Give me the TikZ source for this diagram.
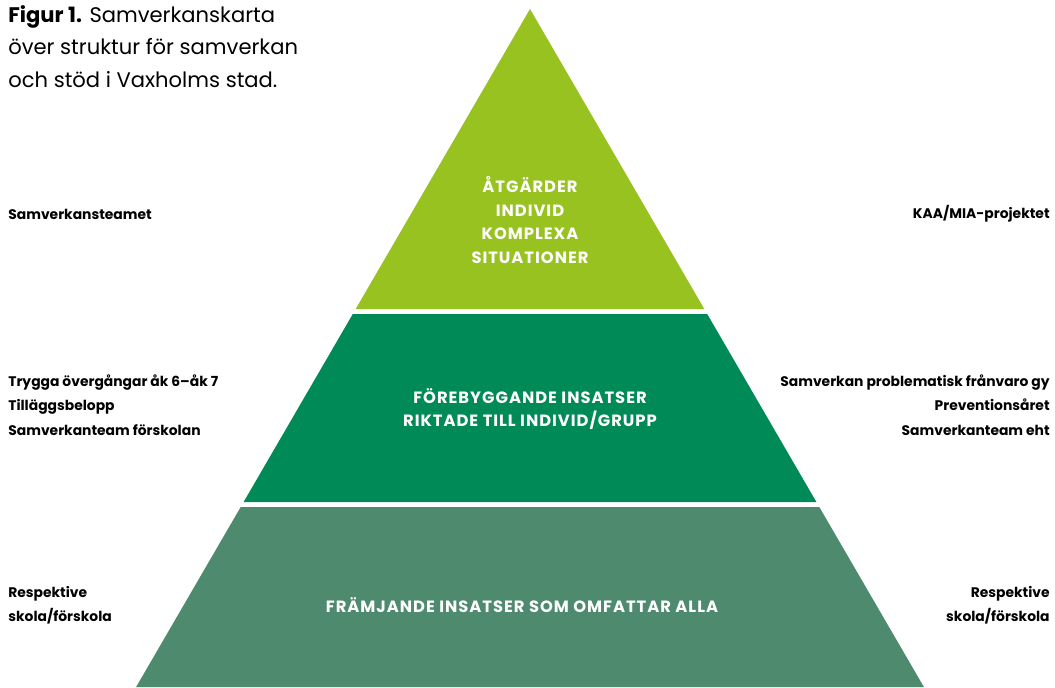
\documentclass[tikz,border=0pt]{standalone}
\usepackage{fontspec}
\setmainfont{Poppins}
\newfontfamily\tierfont{Poppins}[LetterSpace=6]
\definecolor{toplime}{HTML}{97C21F}
\definecolor{midgreen}{HTML}{008A57}
\definecolor{basegreen}{HTML}{4E8A6E}
\tikzset{tier/.style={text=white,font=\tierfont\bfseries\fontsize{9.3}{13.3}\selectfont,align=center,inner sep=0pt},
  side/.style={font=\bfseries\fontsize{7.9}{13.8}\selectfont,inner sep=0pt},
  caption/.style={font=\fontsize{12}{18.6}\selectfont,align=left,inner sep=0pt,anchor=north west}}

\begin{document}
\begin{tikzpicture}[x=0.02cm,y=-0.02cm]
\useasboundingbox (0,0) rectangle (1055,687);
% the three tiers, white gaps between them
\fill[toplime] (530,9) -- (704.3,309) -- (355.7,309) -- cycle;
\fill[midgreen] (352.8,314) -- (707.2,314) -- (816.4,502) -- (243.6,502) -- cycle;
\fill[basegreen] (240.7,507) -- (819.3,507) -- (923.9,687) -- (136.1,687) -- cycle;
\node[tier] (top) at (530,220) {ÅTGÄRDER\\INDIVID\\KOMPLEXA\\SITUATIONER};
\node[tier] (mid) at (530,409) {FÖREBYGGANDE INSATSER\\RIKTADE TILL INDIVID/GRUPP};
\node[tier] (base) at (522,605) {FRÄMJANDE INSATSER SOM OMFATTAR ALLA};
\node[caption] (cap) at (8,5) {\textbf{Figur 1.} Samverkanskarta\\över struktur för samverkan\\och stöd i Vaxholms stad.};
% labels on either side
\node[side,anchor=west] (l1) at (8,214) {Samverkansteamet};
\node[side,anchor=east] (r1) at (1050,214) {KAA/MIA-projektet};
\node[side,anchor=west,align=left] (l2) at (8,405) {Trygga övergångar åk 6–åk 7\\Tilläggsbelopp\\Samverkanteam förskolan};
\node[side,anchor=east,align=right] (r2) at (1050,405) {Samverkan problematisk frånvaro gy\\Preventionsåret\\Samverkanteam eht};
\node[side,anchor=west,align=left] (l3) at (8,605) {Respektive\\skola/förskola};
\node[side,anchor=east,align=right] (r3) at (1050,605) {Respektive\\skola/förskola};
\end{tikzpicture}
\end{document}
